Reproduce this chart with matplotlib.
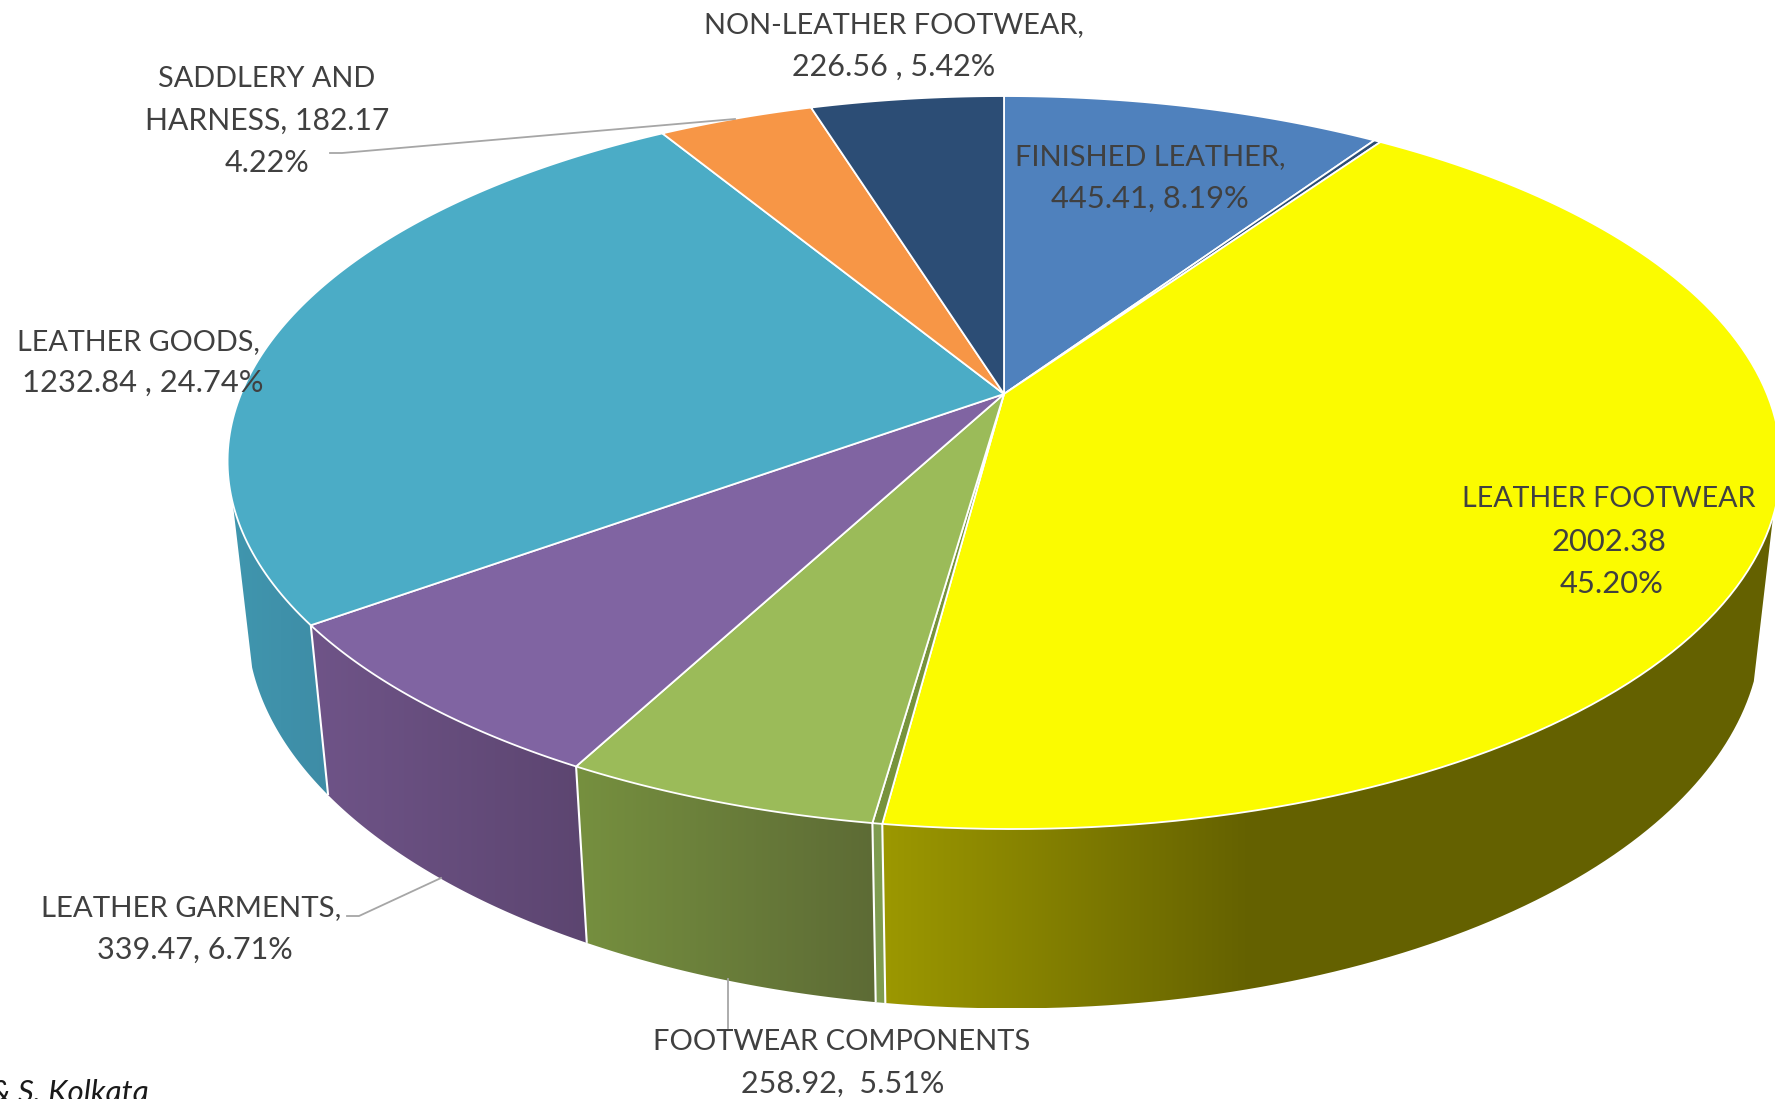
import numpy as np
import matplotlib
matplotlib.use('Agg')
import matplotlib.pyplot as plt
from matplotlib.colors import LinearSegmentedColormap
from matplotlib.patches import Polygon

# Export values, clockwise from 12 o'clock; the two unnamed entries are the thin slivers
categories = ['FINISHED LEATHER', '', 'LEATHER FOOTWEAR', '', 'FOOTWEAR COMPONENTS',
              'LEATHER GARMENTS', 'LEATHER GOODS', 'SADDLERY AND HARNESS', 'NON-LEATHER FOOTWEAR']
values = [445.41, 8.0, 2002.38, 8.0, 258.92, 339.47, 1232.84, 182.17, 226.56]
top_colors = ['#4f81bd', '#2c4d75', '#fbfb00', '#77933c', '#9bbb59',
              '#8064a2', '#4bacc6', '#f79646', '#2c4d75']
wall_left = ['#3f6797', '#2c4d75', '#9c9800', '#7f9c50', '#76903f',
             '#6f5488', '#4096ae', '#c67838', '#233e5e']
wall_right = ['#3f6797', '#2c4d75', '#646100', '#7f9c50', '#5d6b35',
              '#5c4570', '#3e8ca6', '#c67838', '#233e5e']

# Pie geometry in pixels
CX, CY = 1004.0, 394.0
QX, PY, K = 763.0, -280.0, 0.187
FRONT_SKEW = 8.0
WALL_SCALE, WALL_A, WALL_B = 0.975, 1.047, 140.4
VISIBLE = (109.0, 253.0)


def rim(theta):
    t = np.radians(theta)
    u, v = np.sin(t), np.cos(t)
    # the near half of the disc leans slightly to the right
    skew = FRONT_SKEW * np.minimum(v, 0) ** 2
    return CX + QX * u / (1 + K * v) + skew, (CY + PY * v) / (1 + K * v)


def lower(x, y):
    return CX + (x - CX) * WALL_SCALE, WALL_A * y + WALL_B


fig = plt.figure(figsize=(17.75, 10.99), dpi=100)
ax = fig.add_axes([0, 0, 1, 1])

edges = np.concatenate([[0], np.cumsum(values)]) / np.sum(values) * 360

for i in range(len(values)):
    a, b = max(edges[i], VISIBLE[0]), min(edges[i + 1], VISIBLE[1])
    if a >= b:
        continue
    xt, yt = rim(np.linspace(a, b, 80))
    xb, yb = lower(xt, yt)
    xs = np.concatenate([xt, xb[::-1]])
    ys = np.concatenate([yt, yb[::-1]])
    wall = Polygon(np.column_stack([xs, ys]), closed=True, fc='none', ec='none')
    ax.add_patch(wall)
    # shading runs right to left, the yellow wall goes flat past a third of its width
    x0, x1 = xs.min(), xs.max()
    cmap = LinearSegmentedColormap.from_list('w', [wall_left[i], wall_right[i]])
    if x1 - x0 > 500:
        shade = np.clip((np.linspace(x0, x1, 256) - x0) / 370, 0, 1)
    else:
        shade = np.linspace(0, 1, 256)
    img = ax.imshow(shade[None, :], cmap=cmap, vmin=0, vmax=1, aspect='auto',
                    extent=[x0, x1, ys.max(), ys.min()], interpolation='bilinear')
    img.set_clip_path(wall)

# dividers down the front of the wall
for e in edges:
    if VISIBLE[0] < e < VISIBLE[1]:
        x, y = rim(e)
        xb, yb = lower(x, y)
        ax.plot([x, xb], [y, yb], color='white', lw=1.5, solid_capstyle='butt')

# top face
for i in range(len(values)):
    x, y = rim(np.linspace(edges[i], edges[i + 1], 120))
    pts = np.column_stack([np.r_[CX, x], np.r_[CY, y]])
    ax.add_patch(Polygon(pts, closed=True, fc=top_colors[i], ec='white', lw=1.3, joinstyle='miter'))

# leader lines
lead = '#a6a6a6'
ax.plot([330, 342, 735], [153, 153, 119], color=lead, lw=1.3)
ax.plot([347, 359, 441], [916, 916, 878], color=lead, lw=1.3)
ax.plot([728, 728], [979, 1028], color=lead, lw=1.3)

# Lato caps and digits run narrower than the label face, so each line has its own size
labels = [
    (894, 25, 'NON-LEATHER FOOTWEAR,', 20.8),
    (894, 67, '226.56 , 5.42%', 22.0),
    (267, 79, 'SADDLERY AND', 20.8),
    (267, 121, 'HARNESS, 182.17', 21.7),
    (267, 163, '4.22%', 22.0),
    (1150, 157, 'FINISHED LEATHER,', 20.9),
    (1150, 199, '445.41, 8.19%', 22.2),
    (1609, 499, 'LEATHER FOOTWEAR', 20.6),
    (1609, 542, '2002.38', 22.2),
    (1612, 584, '45.20%', 22.2),
    (138, 342, 'LEATHER GOODS,', 20.7),
    (143, 383, '1232.84 , 24.74%', 22.2),
    (191, 908, 'LEATHER GARMENTS,', 21.2),
    (195, 950, '339.47, 6.71%', 22.0),
    (842, 1042, 'FOOTWEAR COMPONENTS', 21.0),
    (843, 1084, '258.92,  5.51%', 22.0),
]
for x, y, s, size in labels:
    ax.text(x, y, s, ha='center', va='center', family='Lato', fontsize=size, color='#404040')

ax.text(-10, 1093, '& S, Kolkata', ha='left', va='center', family='Lato', style='italic',
        fontsize=22.5, color='#1a1a1a')

ax.set_xlim(0, 1775)
ax.set_ylim(1099, 0)
ax.axis('off')
fig.savefig('out.png', dpi=100)
